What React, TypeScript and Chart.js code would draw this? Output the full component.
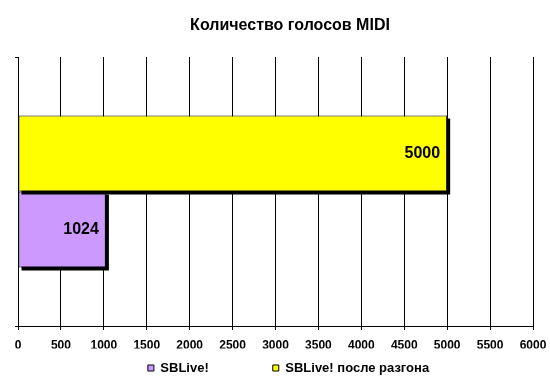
import React, { useEffect, useRef } from "react";
import { Chart, registerables } from "chart.js";

Chart.register(...registerables);

const titleText = "Количество голосов MIDI";
const categories = [""];
const seriesNames = ["SBLive!", "SBLive! после разгона"];
const sbliveValues = [1024];
const overclockedValues = [5000];
const axisMin = 0;
const axisMax = 6000;
const axisStep = 500;

const FONT = "'Liberation Sans', Arial, sans-serif";

const shadowPlugin = {
  id: "barShadow",
  beforeDatasetDraw(chart: any, args: any) {
    const meta = chart.getDatasetMeta(args.index);
    const ctx = chart.ctx;
    ctx.save();
    ctx.fillStyle = "#000";
    meta.data.forEach((el: any) => {
      const p = el.getProps(["x", "y", "base", "height"], true);
      const left = Math.min(p.x, p.base);
      const w = Math.abs(p.x - p.base);
      ctx.fillRect(left + 3, p.y - p.height / 2 + 3, w, p.height);
    });
    ctx.restore();
  },
};

const valueLabelPlugin = {
  id: "valueLabels",
  afterDatasetsDraw(chart: any) {
    const ctx = chart.ctx;
    ctx.save();
    ctx.font = `bold 16px ${FONT}`;
    ctx.fillStyle = "#000";
    ctx.textAlign = "right";
    ctx.textBaseline = "middle";
    chart.data.datasets.forEach((ds: any, i: number) => {
      const meta = chart.getDatasetMeta(i);
      meta.data.forEach((el: any, j: number) => {
        const p = el.getProps(["x", "y"], true);
        ctx.fillText(String(ds.data[j]), p.x - 7, p.y);
      });
    });
    ctx.restore();
  },
};

const shiftPlugin = {
  id: "shiftBlocks",
  afterLayout(chart: any) {
    if (chart.titleBlock) chart.titleBlock.left = 47;
    if (chart.legend) chart.legend.left = 44;
  },
};

export default function App() {
  const ref = useRef<HTMLCanvasElement | null>(null);

  useEffect(() => {
    if (!ref.current) return;
    const chart = new Chart(ref.current, {
      type: "bar",
      data: {
        labels: categories,
        datasets: [
          {
            label: seriesNames[1],
            data: overclockedValues,
            backgroundColor: "#FFFF00",
            borderColor: "#000",
            borderWidth: 1,
            borderSkipped: false,
            barPercentage: 1,
            categoryPercentage: 0.565,
          },
          {
            label: seriesNames[0],
            data: sbliveValues,
            backgroundColor: "#CC99FF",
            borderColor: "#000",
            borderWidth: 1,
            borderSkipped: false,
            barPercentage: 1,
            categoryPercentage: 0.565,
          },
        ],
      },
      options: {
        indexAxis: "y",
        responsive: false,
        animation: false,
        events: [],
        layout: { padding: { top: 0, right: 17, bottom: 5.5, left: 0 } },
        scales: {
          x: {
            type: "linear",
            min: axisMin,
            max: axisMax,
            ticks: {
              stepSize: axisStep,
              color: "#000",
              font: { family: FONT, size: 12, weight: "bold" },
              padding: 8,
              maxRotation: 0,
              autoSkip: false,
              callback: (v: any) => String(v),
            },
            grid: {
              color: "#000",
              lineWidth: 1,
              drawTicks: true,
              tickLength: 4,
              tickColor: "#000",
            },
            border: { display: true, color: "#000", width: 1 },
            afterFit(scale: any) {
              scale.height = 22.5;
              scale.paddingRight = 0;
              scale.paddingLeft = 0;
            },
          },
          y: {
            type: "category",
            ticks: { display: false },
            grid: {
              offset: true,
              drawOnChartArea: false,
              drawTicks: true,
              tickLength: 3,
              color: "#000",
              tickColor: "#000",
            },
            border: { display: true, color: "#000", width: 1 },
            afterFit(scale: any) {
              scale.width = 18;
            },
          },
        },
        plugins: {
          title: {
            display: true,
            text: titleText,
            color: "#000",
            font: { family: FONT, size: 16, weight: "bold", lineHeight: 1.2 },
            padding: { top: 16, bottom: 21.8 },
          },
          legend: {
            display: true,
            position: "bottom",
            labels: {
              color: "#000",
              font: { family: FONT, size: 13, weight: "bold" },
              boxWidth: 6,
              boxHeight: 6,
              padding: 13,
              generateLabels(c: any) {
                const ds = c.data.datasets;
                const item = (i: number) => ({
                  text: ds[i].label,
                  fillStyle: ds[i].backgroundColor,
                  strokeStyle: "#000",
                  lineWidth: 1,
                  hidden: false,
                  datasetIndex: i,
                  fontColor: "#000",
                });
                const spacer = () => ({
                  text: "",
                  fillStyle: "rgba(0,0,0,0)",
                  strokeStyle: "rgba(0,0,0,0)",
                  lineWidth: 0,
                  hidden: false,
                });
                return [item(1), spacer(), spacer(), item(0)];
              },
            },
          },
          tooltip: { enabled: false },
        },
      },
      plugins: [shadowPlugin, valueLabelPlugin, shiftPlugin],
    } as any);
    return () => chart.destroy();
  }, []);

  return (
    <div style={{ position: "fixed", left: 0, top: 0, width: 550, height: 390, background: "#fff" }}>
      <canvas ref={ref} width={550} height={390} />
    </div>
  );
}
